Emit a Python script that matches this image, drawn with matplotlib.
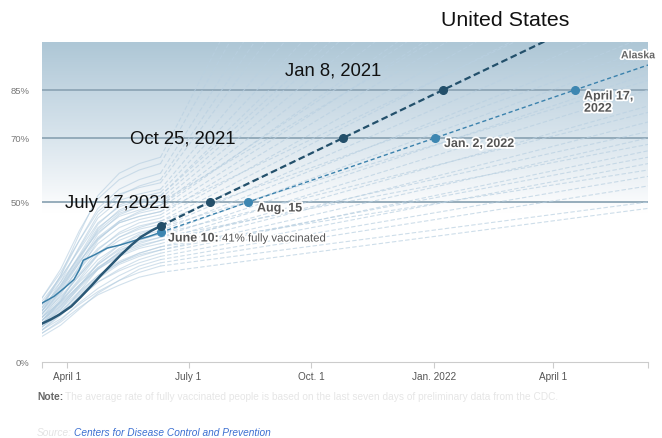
import datetime as dt

import matplotlib.pyplot as plt
import matplotlib.dates as mdates
import matplotlib.patheffects as pe
import numpy as np
from matplotlib.colors import LinearSegmentedColormap

plt.rcParams['font.family'] = ['Liberation Sans', 'DejaVu Sans']

# dates for the historical curves of the other states
hist_dates = [dt.date(2021, 3, 13), dt.date(2021, 3, 27), dt.date(2021, 4, 10),
              dt.date(2021, 4, 24), dt.date(2021, 5, 10), dt.date(2021, 5, 25),
              dt.date(2021, 6, 10)]
proj_start = dt.date(2021, 6, 10)
proj_end = dt.date(2022, 6, 11)

# percent fully vaccinated, one row per state
state_hist = [
    [10, 13.5, 18, 22, 25.5, 28, 30],
    [9, 13, 18.5, 23, 27, 30, 32],
    [11, 15, 20, 25, 28.5, 31, 33],
    [10, 14.5, 20, 25, 29, 32, 34],
    [12, 16.5, 22, 27, 31, 33.5, 35],
    [11, 15.5, 21.5, 27, 31.5, 34, 36],
    [13, 18, 24, 29, 33, 35.5, 37],
    [12, 17, 23, 29, 33.5, 36, 38],
    [14, 19, 25, 30.5, 35, 37.5, 39],
    [12, 17.5, 24, 30.5, 35.5, 38.5, 40],
    [13, 18.5, 25.5, 32, 36.5, 39.5, 41],
    [15, 20.5, 27, 33.5, 38, 40.5, 42],
    [14, 20, 27, 34, 39, 41.5, 43],
    [16, 22, 29, 35.5, 40, 42.5, 44],
    [13, 19.5, 27.5, 35, 40.5, 43.5, 45],
    [15, 21.5, 29.5, 37, 42, 44.5, 46],
    [17, 23.5, 31.5, 38.5, 43.5, 45.5, 47],
    [16, 23, 31, 39, 44, 46.5, 48],
    [18, 25, 33, 40.5, 45.5, 47.5, 49],
    [15, 22, 31, 40, 46, 48.5, 50],
    [17, 24, 33, 42, 47, 49.5, 51],
    [19, 26.5, 35, 43.5, 48.5, 50.5, 52],
    [16, 24, 33.5, 43, 49, 51.5, 53],
    [18, 26, 35.5, 45, 50.5, 52.5, 54],
    [20, 28, 38, 47, 52.5, 54.5, 56],
    [14, 18.5, 24, 29.5, 34, 36.5, 38],
    [12, 16, 21, 26.5, 31, 34, 36],
    [11, 16.5, 23.5, 31, 36.5, 40, 42],
    [13, 19, 26, 33.5, 39, 42, 44],
    [10, 15, 22, 29, 34.5, 38, 40],
    [16, 25, 36, 46, 52, 55, 57],
    [18, 27, 38, 48, 54, 57, 59],
    [20, 29, 41, 51, 57, 60, 62],
    [17, 27, 40, 52, 59, 62, 64],
    [14, 21, 30, 38.5, 43.5, 45.5, 47],
    [9, 12.5, 17, 21, 24, 26.5, 28],
    [8, 11.5, 16.5, 21.5, 25.5, 29, 31],
    [12, 19, 28.5, 38, 44, 47, 49],
    [15, 22.5, 32, 41.5, 47.5, 50, 52],
    [13, 17.5, 23.5, 29.5, 34, 37, 39],
    [11, 15, 20.5, 26, 30.5, 33, 35],
    [16, 23.5, 32.5, 41, 46.5, 48.5, 50],
]
# projected value on the last day of the axis
state_proj_end = [50, 58, 62, 66, 70, 75, 80, 85, 90, 96, 102, 108, 115, 122,
                  130, 138, 145, 155, 165, 175, 185, 200, 215, 235, 260,
                  72, 60, 88, 98, 78,
                  280, 300, 330, 360, 120, 48, 55, 150, 190, 68, 64, 140]

us_dates = [dt.date(2021, 3, 13), dt.date(2021, 3, 20), dt.date(2021, 3, 26),
            dt.date(2021, 4, 4), dt.date(2021, 4, 11), dt.date(2021, 4, 19),
            dt.date(2021, 4, 26), dt.date(2021, 5, 4), dt.date(2021, 5, 11),
            dt.date(2021, 5, 19), dt.date(2021, 5, 26), dt.date(2021, 6, 3),
            dt.date(2021, 6, 10)]
us_hist = [12, 13.4, 14.8, 17.4, 20.3, 23.8, 27, 30.4, 33.4, 36.5, 39, 41, 42.5]

ak_dates = [dt.date(2021, 3, 13), dt.date(2021, 3, 22), dt.date(2021, 3, 30),
            dt.date(2021, 4, 6), dt.date(2021, 4, 10), dt.date(2021, 4, 13),
            dt.date(2021, 4, 22), dt.date(2021, 5, 1), dt.date(2021, 5, 11),
            dt.date(2021, 5, 21), dt.date(2021, 6, 1), dt.date(2021, 6, 10)]
ak_hist = [18.4, 20.5, 23.2, 25.8, 28.8, 31.8, 33.6, 35.6, 36.6, 37.9, 39.2, 40.5]

us_proj_dates = [dt.date(2021, 6, 10), dt.date(2021, 7, 17), dt.date(2021, 10, 25),
                 dt.date(2022, 1, 8), dt.date(2022, 4, 1)]
us_proj = [42.5, 50, 70, 85, 101.5]
ak_proj_dates = [dt.date(2021, 6, 10), dt.date(2021, 8, 15), dt.date(2022, 1, 2),
                 dt.date(2022, 4, 17), dt.date(2022, 6, 11)]
ak_proj = [40.5, 50, 70, 85, 92.8]

ytick_vals = [0, 50, 70, 85]
xtick_dates = [dt.date(2021, 4, 1), dt.date(2021, 7, 1), dt.date(2021, 10, 1),
               dt.date(2022, 1, 1), dt.date(2022, 4, 1)]
xtick_labels = ['April 1', 'July 1', 'Oct. 1', 'Jan. 2022', 'April 1']

W, H = 662, 438
fig = plt.figure(figsize=(W / 100, H / 100), dpi=100)
ax = fig.add_axes([42 / W, 1 - 362 / H, 606 / W, 320 / H])

x0 = mdates.date2num(dt.date(2021, 3, 13))
x1 = mdates.date2num(proj_end)
ax.set_xlim(x0, x1)
ax.set_ylim(0, 100)

# background gradient, white below about 48%
cmap = LinearSegmentedColormap.from_list(
    'bg', [(0, '#ffffff'), (0.47, '#ffffff'), (0.55, '#f1f5f8'),
           (0.7, '#d9e5ed'), (0.85, '#c4d6e2'), (1, '#aec7d6')])
grad = np.linspace(0, 1, 256).reshape(-1, 1)
ax.imshow(grad, cmap=cmap, aspect='auto', origin='lower',
          extent=[x0, x1, 0, 100], zorder=0)

for yv in [50, 70, 85]:
    ax.axhline(yv, color='#8ea6b6', lw=1.3, zorder=1)

for vals, end in zip(state_hist, state_proj_end):
    ax.plot(hist_dates, vals, color='#b4cde0', lw=0.8, alpha=0.6, zorder=2)
    ax.plot([proj_start, proj_end], [vals[-1], end], color='#b9d0e1', lw=0.8,
            dashes=(4, 2), alpha=0.7, zorder=2)

ax.plot(ak_dates, ak_hist, color='#3a7fa8', lw=1.1, zorder=4)
ax.plot(ak_proj_dates, ak_proj, color='#3b82ad', lw=1.0, dashes=(3, 2), zorder=4)
ax.plot(ak_proj_dates[:4], ak_proj[:4], 'o', color='#3d86b1', ms=5.5, zorder=5)

ax.plot(us_dates, us_hist, color='#2a5876', lw=1.8, zorder=4)
ax.plot(us_proj_dates, us_proj, color='#23506b', lw=1.6, dashes=(3, 1.6), zorder=4)
ax.plot(us_proj_dates[:4], us_proj[:4], 'o', color='#234f6a', ms=5.5, zorder=5)

# axes styling
for s in ['top', 'right', 'left']:
    ax.spines[s].set_visible(False)
ax.spines['bottom'].set_color('#cccccc')
ax.set_yticks(ytick_vals)
ax.set_yticklabels([f'{v}%' for v in ytick_vals])
ax.tick_params(axis='y', length=0, pad=9, labelsize=6.8, labelcolor='#777777')
ax.set_xticks([mdates.date2num(d) for d in xtick_dates] + [x0, x1])
ax.set_xticklabels(xtick_labels + ['', ''])
ax.tick_params(axis='x', length=4, color='#cccccc', pad=3, labelsize=7.2,
               labelcolor='#555555')


def ftext(px, py, s, **kw):
    return fig.text(px / W, 1 - py / H, s, va='baseline', **kw)


halo = [pe.withStroke(linewidth=2.5, foreground='white')]

ftext(505, 26.5, 'United States', ha='center', fontsize=15.4, color='#111111')
ftext(65, 208.5, 'July 17,2021', fontsize=13.3, color='#111111')
ftext(130, 143, 'Oct 25, 2021', fontsize=13.3, color='#111111')
ftext(285, 76, 'Jan 8, 2021', fontsize=13.3, color='#111111')

lab = dict(fontsize=9, fontweight='bold', color='#555555', path_effects=halo)
ftext(257, 211.5, 'Aug. 15', **lab)
ftext(444, 147, 'Jan. 2, 2022', **lab)
ftext(584, 99.5, 'April 17,', **lab)
ftext(584, 111.7, '2022', **lab)
ftext(621, 58.3, 'Alaska', fontsize=7.6, fontweight='bold', color='#666666',
      path_effects=halo)
ftext(168, 241.5, 'June 10:', **lab)
ftext(222, 241.5, '41% fully vaccinated', fontsize=8.2, color='#555555',
      path_effects=halo)

ftext(37, 399.5, 'Note:', fontsize=7.4, fontweight='bold', color='#666666')
ftext(65, 399.5, 'The average rate of fully vaccinated people is based on the '
      'last seven days of preliminary data from the CDC.', fontsize=7.3,
      color='#e6e6e6')
ftext(37, 436, 'Source:', fontsize=7.3, style='italic', color='#e3e3e3')
ftext(74, 436, 'Centers for Disease Control and Prevention', fontsize=7.3,
      style='italic', color='#3b6fd1')

fig.savefig('out.png', dpi=100)
